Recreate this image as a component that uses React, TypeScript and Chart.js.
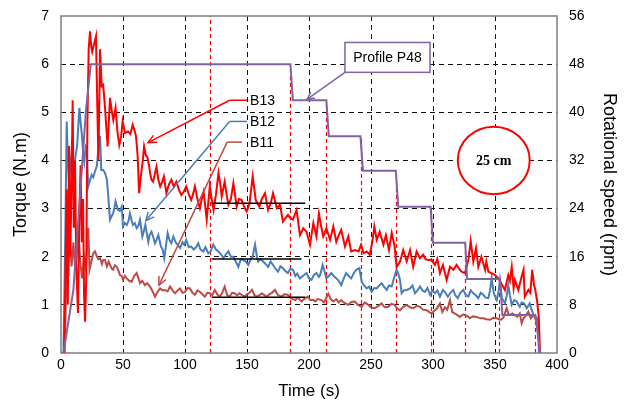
import React, { useEffect, useRef } from "react";
import { Chart, registerables } from "chart.js";

Chart.register(...registerables);

// Torque records [time (s), torque (N.m)] for the three blades
const B13: [number, number][] = [
  [0, 0], [2.5, 0], [3.5, 1.5], [4.5, 3.4], [5.5, 1.0], [6.5, 4.3], [7.5, 2.0], [8.5, 3.5], [9.4, 5.25],
  [10.3, 2.6], [11.3, 4.0], [12.3, 1.8], [13.7, 0.83], [14.8, 2.8], [15.8, 3.9], [16.8, 2.3], [17.8, 3.2],
  [18.6, 1.2], [19.4, 0.65], [20.3, 1.5], [21.3, 4.8], [22.3, 6.3], [23.4, 6.68], [24.5, 6.35], [25.2, 6.26],
  [26.5, 6.4], [28.2, 6.58], [29.3, 5.1], [30.2, 4.0], [31.5, 6.31], [32.8, 5.54], [34, 5.57], [35.5, 5.1],
  [36.5, 4.7], [37.6, 4.29], [39.5, 5.3], [40.8, 5.05], [42.2, 4.84], [44, 5.09], [45.5, 4.6], [47, 4.32],
  [48.5, 4.5], [49.7, 4.81], [51.6, 4.57], [54, 4.6], [56, 4.55], [57.8, 4.74], [59, 4.65], [60.5, 4.5],
  [61.8, 4.1], [63, 3.32], [64.5, 3.7], [66, 4.0], [67, 4.29], [68.5, 4.1], [69.5, 4.08], [71, 3.9],
  [71.8, 3.74], [73, 3.6], [74.3, 3.56], [75.5, 3.7], [77, 3.87], [78.5, 3.6], [80, 3.46], [81.5, 3.55],
  [83, 3.67], [85, 3.32], [87, 3.5], [89, 3.6], [91, 3.45], [93, 3.56], [95, 3.4], [97, 3.28], [99, 3.35],
  [101, 3.46], [103, 3.3], [105, 3.18], [106.5, 3.3], [108, 3.46], [110, 3.2], [112, 3.01], [113.5, 3.2],
  [115, 3.35], [117.5, 2.77], [120, 3.46], [121.5, 3.2], [123, 2.97], [125, 3.3], [127, 3.74], [128.5, 3.5],
  [129.6, 3.25], [132, 3.56], [133.5, 3.3], [135, 3.08], [137, 3.2], [139, 3.53], [141.7, 3.04], [143.5, 3.2],
  [145.7, 3.18], [147.5, 3.05], [149.7, 2.94], [152, 3.1], [154.6, 3.67], [157, 3.18], [158.5, 3.1],
  [160, 3.04], [162, 3.2], [164.5, 3.32], [167, 2.97], [169, 3.1], [171, 3.32], [174, 3.01], [176.6, 3.08],
  [179, 2.73], [181, 2.8], [183, 2.87], [185, 2.8], [187, 2.77], [190, 2.97], [192.7, 2.45], [195.4, 2.59],
  [198, 2.52], [200.8, 2.25], [203.5, 2.7], [206, 2.42], [208, 2.9], [210, 2.6], [211.5, 2.42], [214, 2.59],
  [217, 2.35], [219.6, 2.63], [222, 2.31], [224, 2.45], [226, 2.56], [229, 2.21], [231.7, 2.42], [234, 2.11],
  [237, 2.14], [240, 2.11], [242, 2.25], [244, 2.07], [246.5, 2.11], [249, 2.04], [251, 2.3], [252.7, 2.63],
  [254.6, 2.35], [257, 2.52], [260, 2.25], [262, 2.45], [264.5, 2.14], [266.7, 2.49], [268.8, 2.25],
  [270.7, 1.79], [273.4, 1.9], [276, 2.14], [278.8, 1.9], [281.5, 2.14], [284, 1.79], [286.8, 2.11],
  [289.5, 1.97], [292, 2.04], [294, 1.95], [296, 1.93], [299, 1.93], [301.6, 1.83], [303.5, 1.95],
  [305.6, 1.66], [308, 1.83], [311, 1.52], [313.7, 1.79], [316.4, 1.73], [319, 1.83], [321, 1.75],
  [323, 1.69], [325.8, 1.66], [328.5, 1.93], [330.4, 2.33], [332.5, 1.9], [334.7, 2.18], [336.5, 1.79],
  [339, 2.0], [342, 1.73], [343, 1.9], [344.6, 1.69], [347, 1.66], [350, 1.62], [352.7, 1.55], [355, 1.45],
  [358, 1.31], [360.7, 1.62], [362, 1.5], [363.5, 1.79], [365, 1.35], [366, 1.52], [368.8, 1.31],
  [371.5, 1.59], [373, 1.73], [374, 1.17], [376.9, 1.31], [378.5, 1.25], [380, 1.73], [381.5, 1.4],
  [382.3, 1.34], [384, 1.07], [385.3, 0.75], [386.3, 0],
];

const B12: [number, number][] = [
  [0, 0], [2, 0], [3.5, 2.5], [4.6, 4.81], [5.5, 4.0], [6.4, 3.56], [7.5, 3.9], [8.6, 4.18], [9, 4.43],
  [10, 3.77], [11, 3.9], [11.8, 4.12], [13, 4.3], [14.8, 5.09], [15.8, 4.8], [16.7, 4.57], [17.8, 4.2],
  [18.8, 3.98], [20, 4.29], [20.7, 4.26], [22, 3.46], [23.5, 3.6], [24.7, 3.7], [26, 3.65], [27.4, 3.77],
  [29, 3.9], [30.3, 4.3], [31.5, 4.51], [32.5, 3.8], [34, 3.8], [35.5, 3.74], [37, 3.6], [38, 3.3],
  [39.5, 2.77], [41, 2.85], [42, 2.9], [43, 3.0], [44, 3.15], [46, 2.97], [47.5, 2.95], [49, 3.04],
  [50, 2.63], [51.5, 2.7], [53, 2.66], [54.5, 2.75], [55.6, 2.9], [57, 2.75], [58, 2.66], [59.5, 2.7],
  [61, 2.59], [62.5, 2.65], [63.7, 2.77], [65.6, 2.42], [67, 2.55], [68, 2.66], [70.4, 2.31], [71.5, 2.45],
  [73, 2.52], [74.5, 2.4], [75.8, 2.28], [77, 2.35], [78.5, 2.45], [80.6, 2.21], [82, 2.15], [83.3, 1.97],
  [84.5, 2.2], [86, 2.49], [87.5, 2.35], [89, 2.28], [90.6, 2.42], [92.5, 2.3], [94, 2.25], [96, 2.18],
  [98, 2.3], [99.5, 2.25], [101, 2.35], [103, 2.2], [105, 2.21], [107, 2.15], [109, 2.2], [110.7, 2.28],
  [112.5, 2.15], [114.8, 2.11], [116.5, 2.2], [118.8, 2.07], [120.5, 2.1], [122.8, 2.25], [125, 2.15],
  [127, 2.11], [129, 2.05], [131, 1.97], [133, 2.05], [135, 2.11], [137, 2.0], [139, 2.0], [141, 1.9],
  [143, 1.79], [145, 1.95], [147, 1.93], [149, 1.9], [151, 1.83], [153, 1.95], [154.5, 2.0], [156.5, 2.25],
  [158, 2.0], [159, 1.9], [161, 1.95], [163, 1.9], [165, 1.85], [167, 1.79], [169, 1.9], [171, 1.83],
  [173, 1.75], [175, 1.69], [177, 1.8], [179, 1.76], [181, 1.7], [183, 1.66], [185, 1.75], [187, 1.73],
  [189, 1.6], [190.5, 1.65], [192.7, 1.55], [195, 1.6], [198, 1.66], [200, 1.55], [202, 1.52], [204, 1.62],
  [206, 1.66], [208, 1.58], [209, 1.62], [211, 1.83], [212.5, 1.7], [214, 1.55], [216, 1.6], [218, 1.66],
  [220, 1.6], [222, 1.55], [224, 1.5], [226, 1.41], [228, 1.55], [230, 1.66], [232, 1.6], [234, 1.55],
  [236, 1.65], [238, 1.73], [240.6, 1.76], [242.5, 1.48], [244.5, 1.4], [246.5, 1.34], [248.5, 1.38],
  [250.5, 1.27], [252.5, 1.35], [254.6, 1.34], [256.5, 1.4], [258.6, 1.45], [260.5, 1.38], [262.7, 1.31],
  [264.5, 1.4], [266.7, 1.38], [268.5, 1.55], [270.7, 1.73], [272, 1.65], [273.4, 1.52], [274.7, 1.24],
  [276.5, 1.3], [278.8, 1.31], [281.5, 1.34], [283.5, 1.4], [285.5, 1.24], [287.5, 1.3], [289.5, 1.38],
  [291.5, 1.3], [293.5, 1.27], [295.5, 1.35], [297.6, 1.21], [299.5, 1.3], [301.6, 1.24], [303.5, 1.3],
  [305.6, 1.17], [308, 1.31], [310, 1.25], [312, 1.17], [314, 1.25], [316.4, 1.31], [318, 1.2], [320, 1.14],
  [322, 1.25], [324.4, 1.31], [326.5, 1.2], [328.5, 1.17], [330.5, 1.3], [332.5, 1.24], [334.5, 1.2],
  [336.5, 1.14], [338.5, 1.25], [340.6, 1.21], [342.5, 1.15], [344.6, 1.14], [346, 1.3], [347.3, 1.55],
  [349, 1.24], [351.4, 1.1], [353, 1.3], [354, 1.52], [355.5, 1.14], [358, 1.03], [359.5, 1.2], [360.7, 1.41],
  [362, 1.2], [363.5, 1.0], [365.5, 1.1], [367.5, 1.07], [369, 1.0], [370, 0.96], [371.5, 1.05],
  [373.4, 1.03], [375.6, 0.93], [378, 1.03], [379.5, 0.9], [381, 0.79], [383, 0.75], [384.5, 0.6], [385.5, 0],
];

const B11: [number, number][] = [
  [0, 0], [3, 0], [4, 1.2], [5, 2.2], [6, 1.6], [7, 2.4], [8.5, 1.8], [10, 2.3], [11.5, 1.7], [13, 2.1],
  [14, 2.56], [15.5, 1.9], [17, 1.55], [18.5, 2.0], [20, 1.7], [21, 2.2], [22, 2.6], [23, 1.73], [24.5, 1.9],
  [26, 2.07], [27.4, 2.11], [29, 2.0], [30, 1.95], [31.5, 1.97], [33, 1.85], [34, 1.93], [35.5, 1.93],
  [37, 1.8], [38.5, 1.9], [39.5, 1.83], [41, 1.75], [42, 1.73], [43.5, 1.82], [45, 1.79], [46.5, 1.7],
  [47.6, 1.62], [49, 1.6], [50, 1.52], [51.5, 1.6], [53, 1.55], [55, 1.5], [57, 1.48], [59, 1.6], [61, 1.66],
  [62.5, 1.55], [63.7, 1.45], [65.5, 1.5], [67.7, 1.41], [69.5, 1.45], [71.8, 1.38], [73.5, 1.3],
  [75.8, 1.17], [77.5, 1.25], [79.8, 1.34], [82, 1.3], [83.9, 1.31], [86, 1.28], [87.9, 1.38], [90, 1.3],
  [92, 1.24], [94, 1.3], [96, 1.34], [98, 1.25], [100, 1.27], [102, 1.35], [104, 1.34], [106, 1.25],
  [108, 1.21], [110, 1.3], [112, 1.27], [114, 1.22], [116, 1.17], [118, 1.25], [120, 1.24], [122, 1.2],
  [124, 1.31], [126, 1.22], [128, 1.17], [130, 1.25], [132, 1.38], [134, 1.2], [136, 1.17], [138, 1.25],
  [140, 1.24], [142, 1.2], [144, 1.24], [146, 1.2], [148, 1.17], [150, 1.22], [152, 1.25], [154, 1.31],
  [156, 1.2], [158, 1.17], [160, 1.2], [162, 1.24], [164, 1.2], [166, 1.17], [168, 1.22], [170, 1.25],
  [172.6, 1.31], [175, 1.2], [178, 1.17], [180, 1.22], [183, 1.21], [185, 1.15], [187, 1.12], [189, 1.1],
  [191, 1.15], [194, 1.07], [196, 1.12], [199, 1.17], [201, 1.1], [203.5, 1.1], [205, 1.07], [207, 1.12],
  [210, 1.1], [212, 1.05], [215.6, 1.23], [217.5, 1.12], [219.6, 1.07], [222, 1.12], [224, 1.05], [226, 1.1],
  [228, 1.05], [231.7, 1.0], [234, 1.06], [237, 1.07], [239.5, 1.0], [242.5, 0.96], [245, 1.05],
  [247.8, 1.0], [250, 0.95], [253, 0.93], [256, 0.98], [258.6, 1.03], [261, 0.95], [264, 0.96],
  [266.5, 1.02], [269, 1.0], [271, 0.93], [273.4, 0.89], [276, 0.96], [278.8, 1.0], [281.5, 0.95],
  [284, 0.93], [287, 0.98], [289.5, 0.96], [292, 0.9], [295, 0.89], [297, 0.85], [299, 0.82], [301, 0.88],
  [303, 0.92], [305.6, 1.03], [307.5, 0.85], [309.7, 0.95], [311.5, 0.9], [313.7, 1.1], [315.5, 0.85],
  [317.7, 0.82], [320, 0.78], [321.8, 0.75], [324, 0.8], [325.8, 0.79], [328, 0.76], [329.8, 0.72],
  [332, 0.76], [335.2, 0.75], [338, 0.72], [340.6, 0.72], [343, 0.7], [346, 0.69], [348.5, 0.73],
  [351.4, 0.72], [353, 0.7], [355, 0.69], [357, 0.75], [359.4, 0.93], [361, 0.8], [362, 0.79], [364, 0.82],
  [366, 0.79], [368, 0.75], [370, 0.82], [371.5, 0.62], [373, 0.72], [374, 0.75], [376.9, 0.86],
  [378.8, 0.72], [381, 0.79], [383, 0.69], [384.5, 0.72], [386, 0],
];

// Rotational speed profile P48 [time (s), speed (rpm)]
const PROFILE_P48: [number, number][] = [
  [0, 0], [2, 0], [10, 10.5], [15.3, 26], [20, 40], [24, 48], [185, 48], [187, 42], [214, 42], [216, 36],
  [241.5, 36], [243.5, 30.3], [270, 30.3], [272, 24.3], [298, 24.3], [300, 18.3], [326, 18.3], [327.5, 12.3],
  [354, 12.3], [356, 6.3], [382.5, 6.3], [386.5, 0],
];

// Speed-step instants (s) and the speed level (rpm) each marker reaches
const STEP_TIMES = [120, 185, 214, 242, 270, 298, 325.5, 353, 382.5];
const STEP_TOPS = [56, 48, 42, 36, 30.3, 24.3, 18.3, 12.3, 6.3];

// Mean torque levels (N.m) over the 48 rpm window
const MEAN_LEVELS = [3.11, 1.95, 1.16];
const MEAN_START = 121.5;
const MEAN_END = [197, 194, 197];

const X_TICKS = [0, 50, 100, 150, 200, 250, 300, 350, 400];
const TORQUE_MAX = 7;
const SPEED_MAX = 56;

const RED = "#FF0000";
const BLUE = "#4A7EBB";
const BROWN = "#BE4B48";
const PURPLE = "#8064A2";
const FONT = "'Liberation Sans', Arial, sans-serif";
const CLEAR = "rgba(0,0,0,0)";

// Series tags: arrow tip, elbow and end of the leader, in data units
const TAGS = [
  { name: "B13", color: RED, tip: [70.2, 4.37], knee: [136, 5.25], end: [150, 5.25] },
  { name: "B12", color: BLUE, tip: [68.5, 2.75], knee: [136, 4.81], end: [150, 4.81] },
  { name: "B11", color: BROWN, tip: [79, 1.41], knee: [134, 4.38], end: [146, 4.38] },
];
const TAG_TEXT_X = 152.5;

const CALLOUT = { text: "Profile P48", left: 229, right: 297.6, top: 6.45, bottom: 5.83, tip: [198.4, 5.27] };
const DIAMETER = { text: "25 cm", cx: 349, cy: 4.0, rx: 29, ry: 0.7 };

const toXY = (pts: [number, number][]) => pts.map(([x, y]) => ({ x, y }));

function arrowLine(ctx: CanvasRenderingContext2D, x0: number, y0: number, x1: number, y1: number, head = 9) {
  ctx.beginPath();
  ctx.moveTo(x0, y0);
  ctx.lineTo(x1, y1);
  ctx.stroke();
  const ang = Math.atan2(y1 - y0, x1 - x0);
  ctx.beginPath();
  ctx.moveTo(x1 - head * Math.cos(ang - 0.45), y1 - head * Math.sin(ang - 0.45));
  ctx.lineTo(x1, y1);
  ctx.lineTo(x1 - head * Math.cos(ang + 0.45), y1 - head * Math.sin(ang + 0.45));
  ctx.stroke();
}

const overlayPlugin = {
  id: "overlays",
  beforeDatasetsDraw(chart: any) {
    const { ctx, chartArea: a, scales } = chart;
    const xs = scales.x;
    const ys = scales.y2;
    ctx.save();
    ctx.strokeStyle = RED;
    ctx.lineWidth = 1.2;
    ctx.setLineDash([4, 3]);
    STEP_TIMES.forEach((t, i) => {
      const px = Math.round(xs.getPixelForValue(t)) + 0.5;
      ctx.beginPath();
      ctx.moveTo(px, a.bottom);
      ctx.lineTo(px, ys.getPixelForValue(STEP_TOPS[i]));
      ctx.stroke();
    });
    ctx.setLineDash([]);
    ctx.strokeStyle = "#7f7f7f";
    ctx.lineWidth = 1.5;
    ctx.strokeRect(a.left, a.top, a.width, a.height);
    ctx.restore();
  },
  afterDatasetsDraw(chart: any) {
    const { ctx, scales } = chart;
    const xs = scales.x;
    const ys = scales.y;
    const px = (v: number) => xs.getPixelForValue(v);
    const py = (v: number) => ys.getPixelForValue(v);
    ctx.save();

    // mean torque bars
    ctx.strokeStyle = "#000";
    ctx.lineWidth = 1.5;
    MEAN_LEVELS.forEach((lv, i) => {
      ctx.beginPath();
      ctx.moveTo(px(MEAN_START), py(lv));
      ctx.lineTo(px(MEAN_END[i]), py(lv));
      ctx.stroke();
    });

    // series tags with leaders
    ctx.font = `14px ${FONT}`;
    ctx.textBaseline = "middle";
    ctx.textAlign = "left";
    TAGS.forEach((tg) => {
      ctx.strokeStyle = tg.color;
      ctx.lineWidth = 1.5;
      ctx.beginPath();
      ctx.moveTo(px(tg.end[0]), py(tg.end[1]));
      ctx.lineTo(px(tg.knee[0]), py(tg.knee[1]));
      ctx.stroke();
      arrowLine(ctx, px(tg.knee[0]), py(tg.knee[1]), px(tg.tip[0]), py(tg.tip[1]));
      ctx.fillStyle = "#000";
      ctx.fillText(tg.name, px(TAG_TEXT_X), py(tg.end[1]) + 1);
    });

    // profile callout
    const bl = px(CALLOUT.left), br = px(CALLOUT.right);
    const bt = py(CALLOUT.top), bb = py(CALLOUT.bottom);
    ctx.strokeStyle = PURPLE;
    ctx.lineWidth = 1.5;
    arrowLine(ctx, bl, bb, px(CALLOUT.tip[0]), py(CALLOUT.tip[1]), 8);
    ctx.fillStyle = "#fff";
    ctx.fillRect(bl, bt, br - bl, bb - bt);
    ctx.strokeRect(bl, bt, br - bl, bb - bt);
    ctx.fillStyle = "#000";
    ctx.textAlign = "center";
    ctx.fillText(CALLOUT.text, (bl + br) / 2, (bt + bb) / 2 + 1);

    // test-section diameter marker
    const cx = px(DIAMETER.cx), cy = py(DIAMETER.cy);
    const rx = px(DIAMETER.cx + DIAMETER.rx) - cx;
    const ry = cy - py(DIAMETER.cy + DIAMETER.ry);
    ctx.fillStyle = "#fff";
    ctx.strokeStyle = RED;
    ctx.lineWidth = 2;
    ctx.beginPath();
    ctx.ellipse(cx, cy, rx, ry, 0, 0, Math.PI * 2);
    ctx.fill();
    ctx.stroke();
    ctx.fillStyle = "#000";
    ctx.font = `bold 14px 'Liberation Serif', 'Times New Roman', serif`;
    ctx.fillText(DIAMETER.text, cx, cy + 1);
    ctx.restore();
  },
};

export default function App() {
  const canvasRef = useRef<HTMLCanvasElement | null>(null);

  useEffect(() => {
    if (!canvasRef.current) return;
    const edgeHidden = (max: number) => (c: any) =>
      c.tick && (c.tick.value === 0 || c.tick.value === max) ? CLEAR : "#111";

    const chart = new Chart(canvasRef.current, {
      type: "line",
      data: {
        datasets: [
          { label: "B13", data: toXY(B13), borderColor: RED, borderWidth: 2, pointRadius: 0, yAxisID: "y", order: 1 },
          { label: "B12", data: toXY(B12), borderColor: BLUE, borderWidth: 2, pointRadius: 0, yAxisID: "y", order: 2 },
          { label: "B11", data: toXY(B11), borderColor: BROWN, borderWidth: 2, pointRadius: 0, yAxisID: "y", order: 3 },
          { label: "Profile P48", data: toXY(PROFILE_P48), borderColor: PURPLE, borderWidth: 2, pointRadius: 0, yAxisID: "y2", order: 0 },
        ],
      },
      options: {
        animation: false,
        responsive: false,
        events: [],
        layout: { padding: { top: 16, left: 0, right: 0, bottom: 0 } },
        plugins: { legend: { display: false }, tooltip: { enabled: false } },
        elements: { line: { tension: 0 } },
        scales: {
          x: {
            type: "linear",
            min: 0,
            max: 400,
            afterBuildTicks: (s: any) => {
              s.ticks = X_TICKS.map((v) => ({ value: v }));
            },
            afterFit: (s: any) => {
              s.height = 50;
            },
            ticks: { color: "#000", font: { family: FONT, size: 14 }, padding: 4 },
            grid: { color: edgeHidden(400), drawTicks: false, lineWidth: 1 },
            border: { display: false, dash: [5, 4] },
            title: { display: true, text: "Time (s)", color: "#000", font: { family: FONT, size: 17 }, padding: { top: 0, bottom: 1 } },
          },
          y: {
            position: "left",
            min: 0,
            max: TORQUE_MAX,
            ticks: { stepSize: 1, color: "#000", font: { family: FONT, size: 14 }, padding: 0 },
            afterFit: (s: any) => {
              s.width = 61;
            },
            grid: { color: edgeHidden(TORQUE_MAX), drawTicks: true, tickLength: 12, tickColor: CLEAR, lineWidth: 1 },
            border: { display: false, dash: [5, 4] },
            title: { display: true, text: "Torque (N.m)", color: "#000", font: { family: FONT, size: 18 }, padding: { top: 10, bottom: 0 } },
          },
          y2: {
            position: "right",
            min: 0,
            max: SPEED_MAX,
            ticks: { stepSize: 8, color: "#000", font: { family: FONT, size: 14 }, padding: 0 },
            afterFit: (s: any) => {
              s.width = 70;
            },
            grid: { display: false, drawTicks: true, tickLength: 12, tickColor: CLEAR },
            border: { display: false },
            title: { display: true, text: "Rotational speed (rpm)", color: "#000", font: { family: FONT, size: 18 }, padding: { top: 7, bottom: 0 } },
          },
        },
      },
      plugins: [overlayPlugin],
    } as any);

    return () => chart.destroy();
  }, []);

  return (
    <div style={{ position: "fixed", left: 0, top: 0, width: 627, height: 403, background: "#fff" }}>
      <canvas ref={canvasRef} width={627} height={403} style={{ display: "block", width: 627, height: 403 }} />
    </div>
  );
}
